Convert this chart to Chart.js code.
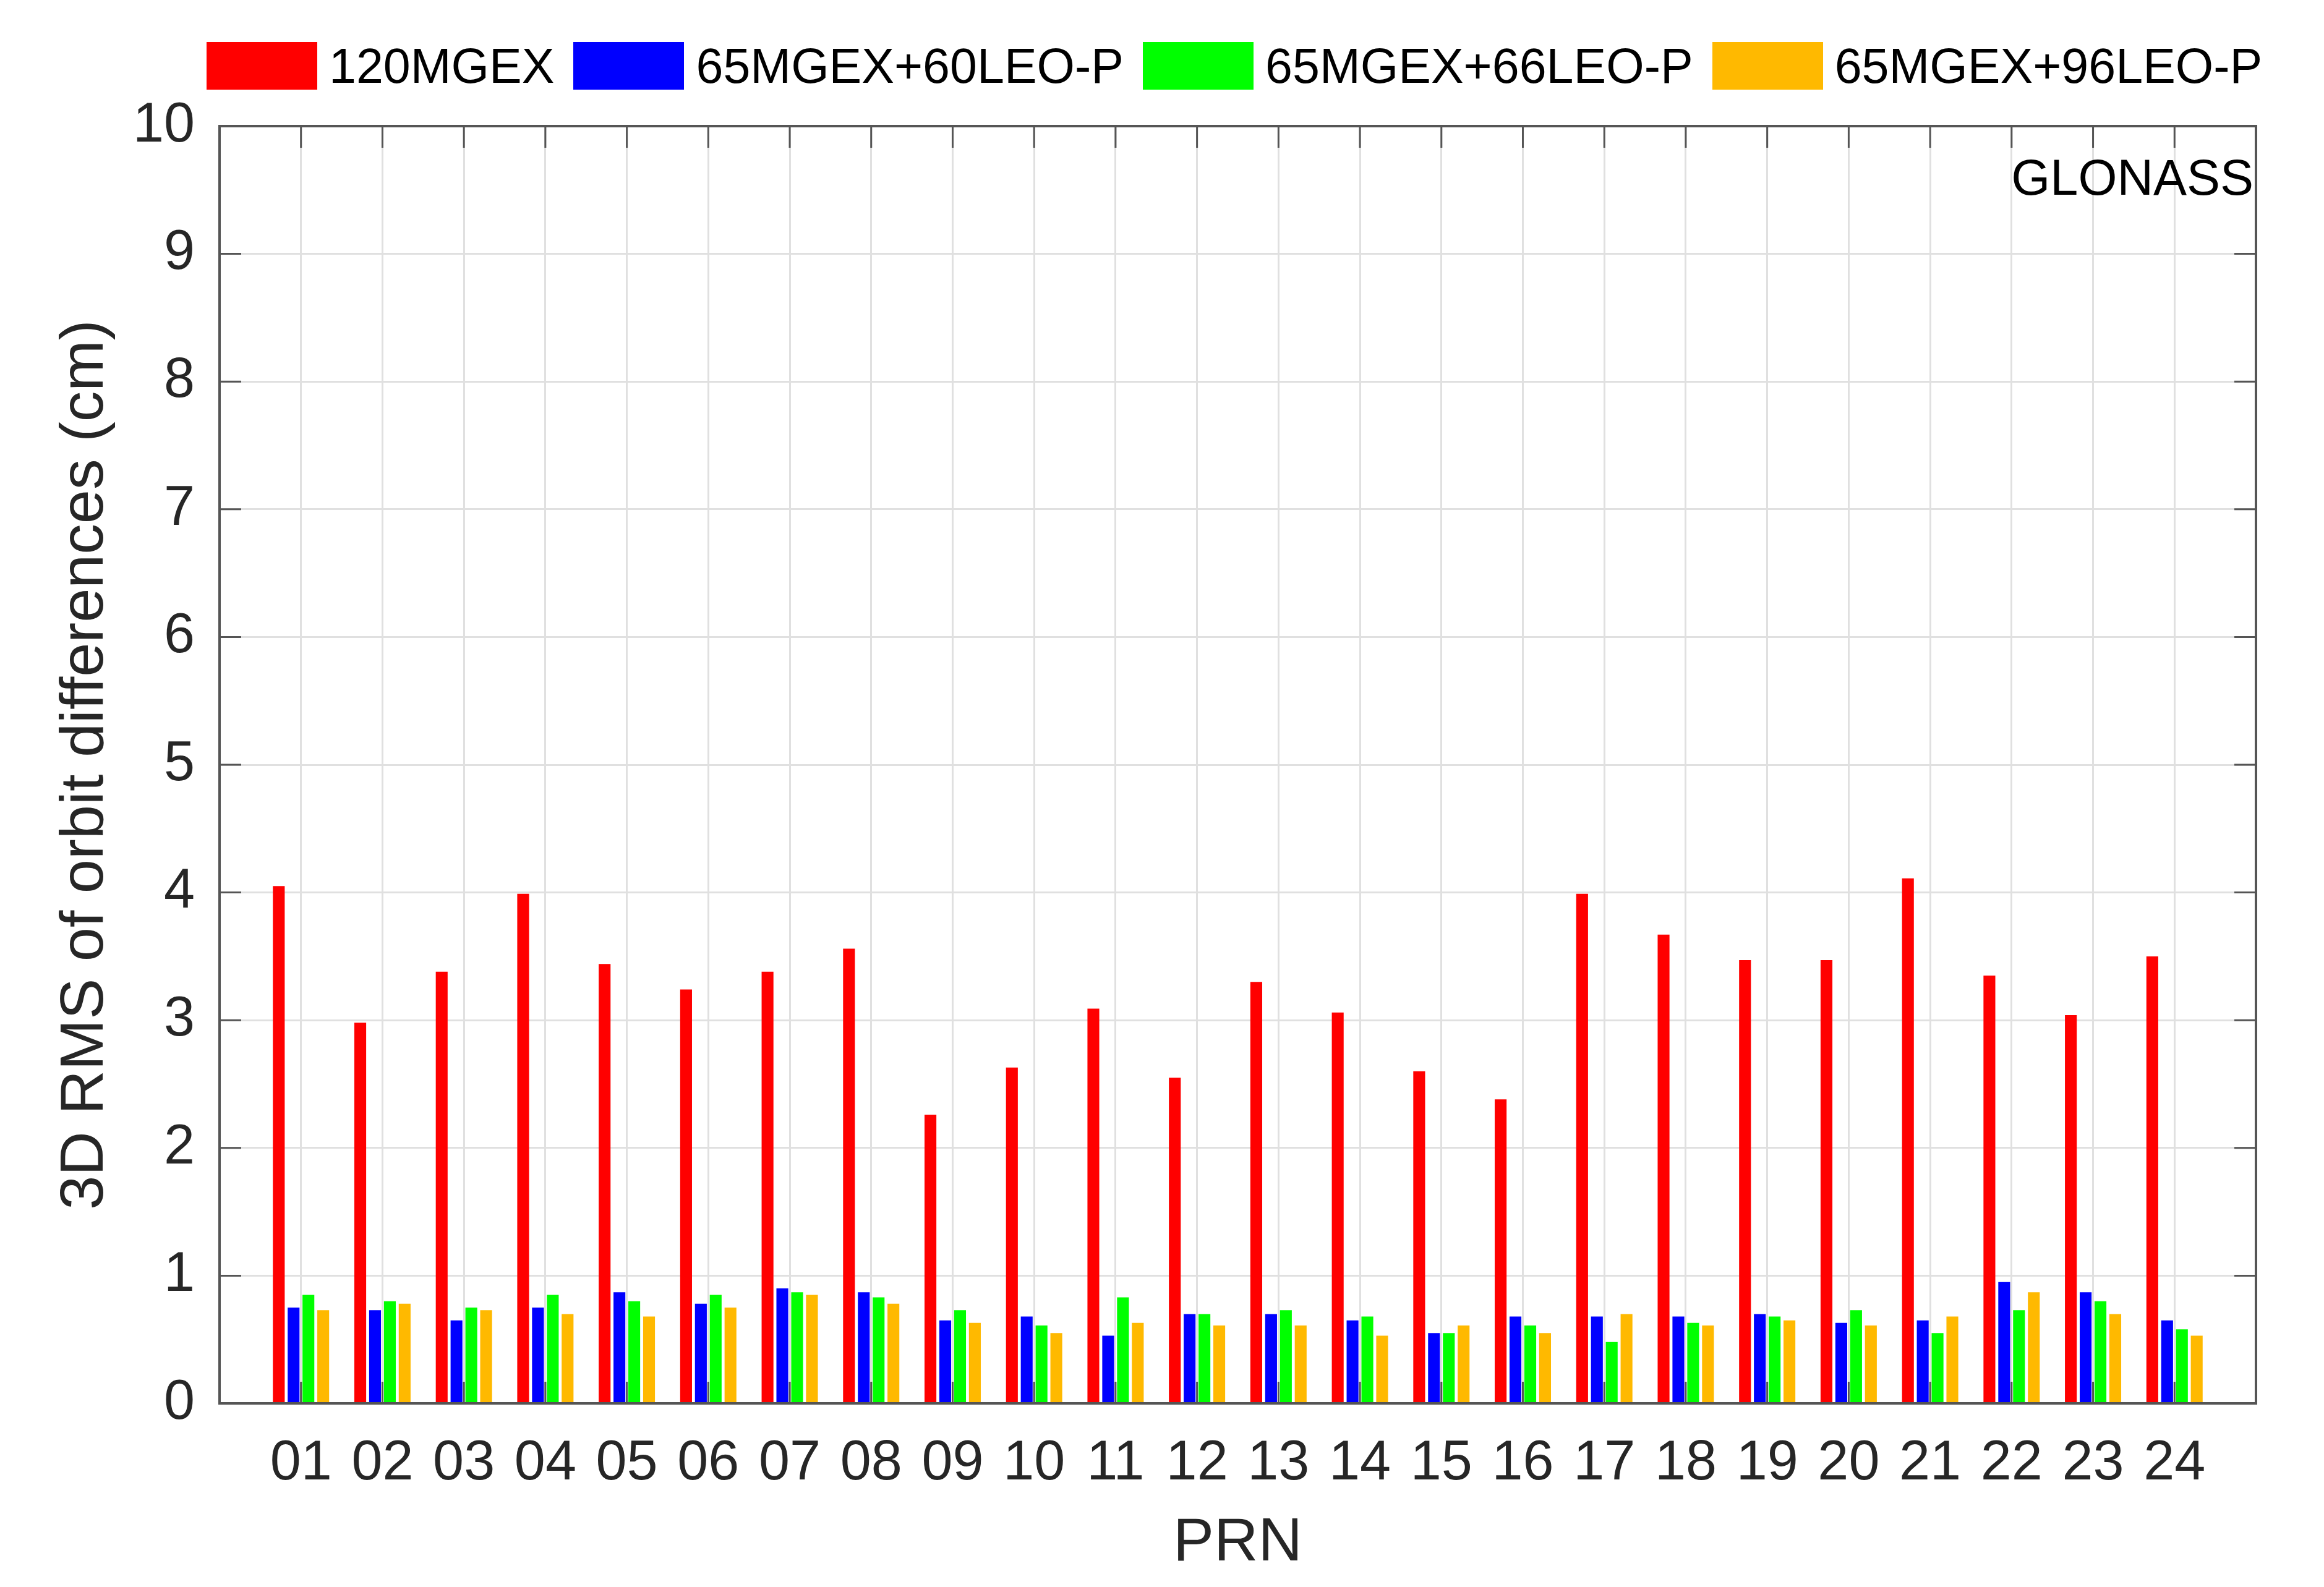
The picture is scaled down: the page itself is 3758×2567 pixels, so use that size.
<!DOCTYPE html>
<html lang="en">

<head>
    <meta charset="UTF-8" />
    <title>GLONASS orbit differences</title>
    <script src="https://cdn.jsdelivr.net/npm/chart.js"></script>
    <style>
        body {
            margin: 0;
            background: #fff;
        }

        .wrap {
            position: relative;
            width: 3758px;
            height: 2567px;
        }

        #orbitChart {
            display: block;
        }

        .custom-legend {
            position: absolute;
            left: 334px;
            top: 68px;
            height: 77px;
            display: flex;
            align-items: center;
            font-family: "Liberation Sans", Arial, sans-serif;
            font-size: 79px;
            line-height: 1;
            color: #000;
            white-space: nowrap;
        }

        .custom-legend-item {
            display: flex;
            align-items: center;
            margin-right: 31px;
        }

        .custom-legend-box {
            width: 179px;
            height: 77px;
            margin-right: 19px;
        }
    </style>
</head>

<body>
    <div class="wrap">
        <canvas id="orbitChart" width="3758" height="2567"></canvas>
        <div id="legend" class="custom-legend"></div>
    </div>

    <script>
        // PRN numbers along the x axis
        const prns = ['01', '02', '03', '04', '05', '06', '07', '08', '09', '10', '11', '12',
            '13', '14', '15', '16', '17', '18', '19', '20', '21', '22', '23', '24'];

        const seriesNames = ['120MGEX', '65MGEX+60LEO-P', '65MGEX+66LEO-P', '65MGEX+96LEO-P'];
        const seriesColors = ['#FF0000', '#0000FF', '#00FF00', '#FFB900'];

        // 3D RMS (cm)
        const rms120 = [4.05, 2.98, 3.38, 3.99, 3.44, 3.24, 3.38, 3.56, 2.26, 2.63, 3.09, 2.55,
            3.30, 3.06, 2.60, 2.38, 3.99, 3.67, 3.47, 3.47, 4.11, 3.35, 3.04, 3.50];
        const rms60 = [0.75, 0.73, 0.65, 0.75, 0.87, 0.78, 0.90, 0.87, 0.65, 0.68, 0.53, 0.70,
            0.70, 0.65, 0.55, 0.68, 0.68, 0.68, 0.70, 0.63, 0.65, 0.95, 0.87, 0.65];
        const rms66 = [0.85, 0.80, 0.75, 0.85, 0.80, 0.85, 0.87, 0.83, 0.73, 0.61, 0.83, 0.70,
            0.73, 0.68, 0.55, 0.61, 0.48, 0.63, 0.68, 0.73, 0.55, 0.73, 0.80, 0.58];
        const rms96 = [0.73, 0.78, 0.73, 0.70, 0.68, 0.75, 0.85, 0.78, 0.63, 0.55, 0.63, 0.61,
            0.61, 0.53, 0.61, 0.55, 0.70, 0.61, 0.65, 0.61, 0.68, 0.87, 0.70, 0.53];

        const yTicks = [0, 1, 2, 3, 4, 5, 6, 7, 8, 9, 10];

        const FONT = '"Liberation Sans", Arial, sans-serif';
        const textColor = '#262626';
        const axisColor = '#555555';
        const tickLen = 35;

        // one empty slot on each side, like the MATLAB axis limits 0..25
        const xLabels = ['', ...prns, ''];
        const pad = (arr) => [null, ...arr, null];

        const allSeries = [rms120, rms60, rms66, rms96];

        // inward ticks, box frame and the GLONASS tag
        const frameAndTicks = {
            id: 'frameAndTicks',
            afterDatasetsDraw(chart) {
                const { ctx, chartArea: a, scales: { x, y } } = chart;
                ctx.save();
                ctx.strokeStyle = axisColor;
                ctx.lineWidth = 3;
                ctx.beginPath();
                for (let i = 1; i < x.ticks.length - 1; i++) {
                    const px = x.getPixelForTick(i);
                    ctx.moveTo(px, a.bottom);
                    ctx.lineTo(px, a.bottom - tickLen);
                    ctx.moveTo(px, a.top);
                    ctx.lineTo(px, a.top + tickLen);
                }
                y.ticks.forEach((t, i) => {
                    const py = y.getPixelForTick(i);
                    ctx.moveTo(a.left, py);
                    ctx.lineTo(a.left + tickLen, py);
                    ctx.moveTo(a.right, py);
                    ctx.lineTo(a.right - tickLen, py);
                });
                ctx.stroke();

                ctx.lineWidth = 4;
                ctx.strokeRect(a.left, a.top, a.right - a.left, a.bottom - a.top);

                ctx.fillStyle = '#000';
                ctx.font = '81px ' + FONT;
                ctx.textAlign = 'right';
                ctx.textBaseline = 'alphabetic';
                ctx.fillText('GLONASS', a.right - 4, a.top + 111);
                ctx.restore();
            }
        };

        const orbitChart = new Chart(document.getElementById('orbitChart'), {
            type: 'bar',
            data: {
                labels: xLabels,
                datasets: seriesNames.map((name, i) => ({
                    label: name,
                    data: pad(allSeries[i]),
                    backgroundColor: seriesColors[i],
                    borderWidth: 0,
                    categoryPercentage: 0.727,
                    barPercentage: 0.8
                }))
            },
            options: {
                responsive: false,
                devicePixelRatio: 1,
                animation: false,
                layout: {
                    padding: { top: 204, right: 110, bottom: 0, left: 0 }
                },
                plugins: {
                    legend: { display: false },
                    tooltip: { enabled: false }
                },
                scales: {
                    x: {
                        offset: false,
                        grid: {
                            offset: false,
                            color: '#e0e0e0',
                            lineWidth: 3,
                            drawTicks: false
                        },
                        border: { display: false },
                        ticks: {
                            autoSkip: false,
                            maxRotation: 0,
                            padding: 44,
                            color: textColor,
                            font: { family: FONT, size: 90 }
                        },
                        title: {
                            display: true,
                            text: 'PRN',
                            color: textColor,
                            font: { family: FONT, size: 99 },
                            padding: { top: 0, bottom: 11 }
                        },
                        afterFit: (scale) => { scale.height = 297; }
                    },
                    y: {
                        min: 0,
                        max: 10,
                        afterBuildTicks: (scale) => { scale.ticks = yTicks.map(v => ({ value: v })); },
                        grid: {
                            color: '#e0e0e0',
                            lineWidth: 3,
                            drawTicks: false
                        },
                        border: { display: false },
                        ticks: {
                            padding: 40,
                            color: textColor,
                            font: { family: FONT, size: 90 }
                        },
                        title: {
                            display: true,
                            text: '3D RMS of orbit differences (cm)',
                            color: textColor,
                            font: { family: FONT, size: 99 },
                            padding: { top: 79, bottom: 0 }
                        },
                        afterFit: (scale) => { scale.width = 355; }
                    }
                }
            },
            plugins: [frameAndTicks]
        });

        // Custom Legend
        function buildLegend(chart) {
            const box = document.getElementById('legend');
            box.innerHTML = '';
            chart.data.datasets.forEach((ds) => {
                const item = document.createElement('div');
                item.className = 'custom-legend-item';
                item.innerHTML = `<span class="custom-legend-box" style="background-color: ${ds.backgroundColor}"></span><span>${ds.label}</span>`;
                box.appendChild(item);
            });
        }

        buildLegend(orbitChart);
    </script>
</body>

</html>
